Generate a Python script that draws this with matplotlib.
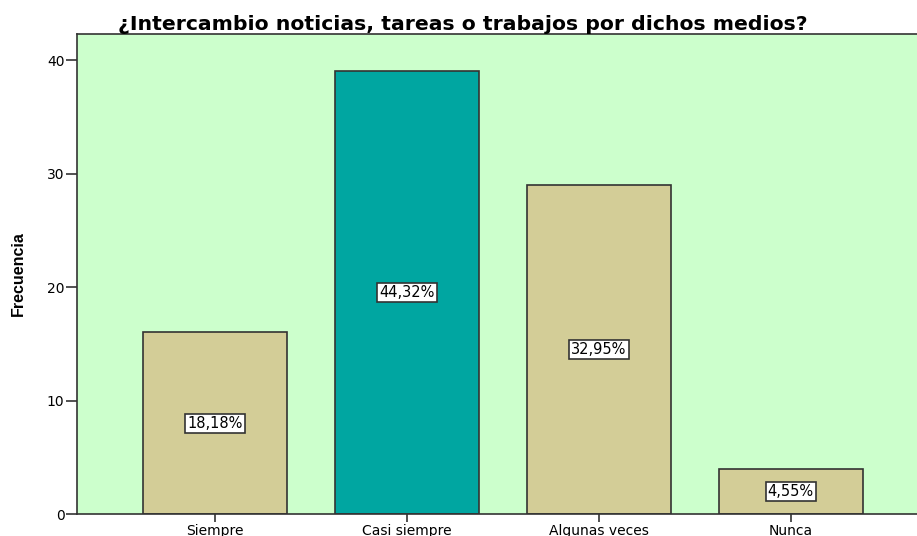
import matplotlib
matplotlib.use('Agg')
import matplotlib.pyplot as plt

plt.rcParams['font.family'] = ['DejaVu Sans']

# datos
categorias = ['Siempre', 'Casi siempre', 'Algunas veces', 'Nunca']
frecuencias = [16, 39, 29, 4]
porcentajes = ['18,18%', '44,32%', '32,95%', '4,55%']
colores = ['#D3CD97', '#00A6A1', '#D3CD97', '#D3CD97']

fig = plt.figure(figsize=(9.17, 5.36), dpi=100)
# el eje derecho queda fuera de la imagen, como en el original
ax = fig.add_axes([77 / 917, 22 / 536, 852 / 917, 480 / 536])
ax.set_facecolor('#CCFFCC')

x = range(len(categorias))
ax.bar(x, frecuencias, width=0.75, color=colores, edgecolor='#333333', linewidth=1.2, zorder=2)

# etiquetas de porcentaje en el centro de cada barra
for i, (f, p) in enumerate(zip(frecuencias, porcentajes)):
    ax.text(i, f / 2, p, ha='center', va='center', fontsize=10.5, color='black', zorder=3,
            bbox=dict(boxstyle='square,pad=0.15', facecolor='white', edgecolor='#333333', linewidth=1.2))

ax.set_xlim(-0.72, 3.72)
ax.set_ylim(0, 42.3)
ax.set_yticks([0, 10, 20, 30, 40])
ax.set_xticks(list(x))
ax.set_xticklabels(categorias, fontsize=10)
ax.tick_params(axis='y', direction='out', length=8, width=1.2, color='#333333', labelsize=10, pad=1)
ax.tick_params(axis='x', direction='out', length=6, width=1.2, color='#333333', labelsize=10, pad=1)

for s in ['left', 'bottom', 'top', 'right']:
    ax.spines[s].set_color('#333333')
    ax.spines[s].set_linewidth(1.2)

ax.set_ylabel('Frecuencia', fontsize=11.5, fontweight='bold', labelpad=15, family='Liberation Sans')
ax.set_title('¿Intercambio noticias, tareas o trabajos por dichos medios?', fontsize=14.7,
             fontweight='bold', pad=3, x=(463 - 77) / 852)

fig.savefig('out.png', dpi=100)
plt.close()
